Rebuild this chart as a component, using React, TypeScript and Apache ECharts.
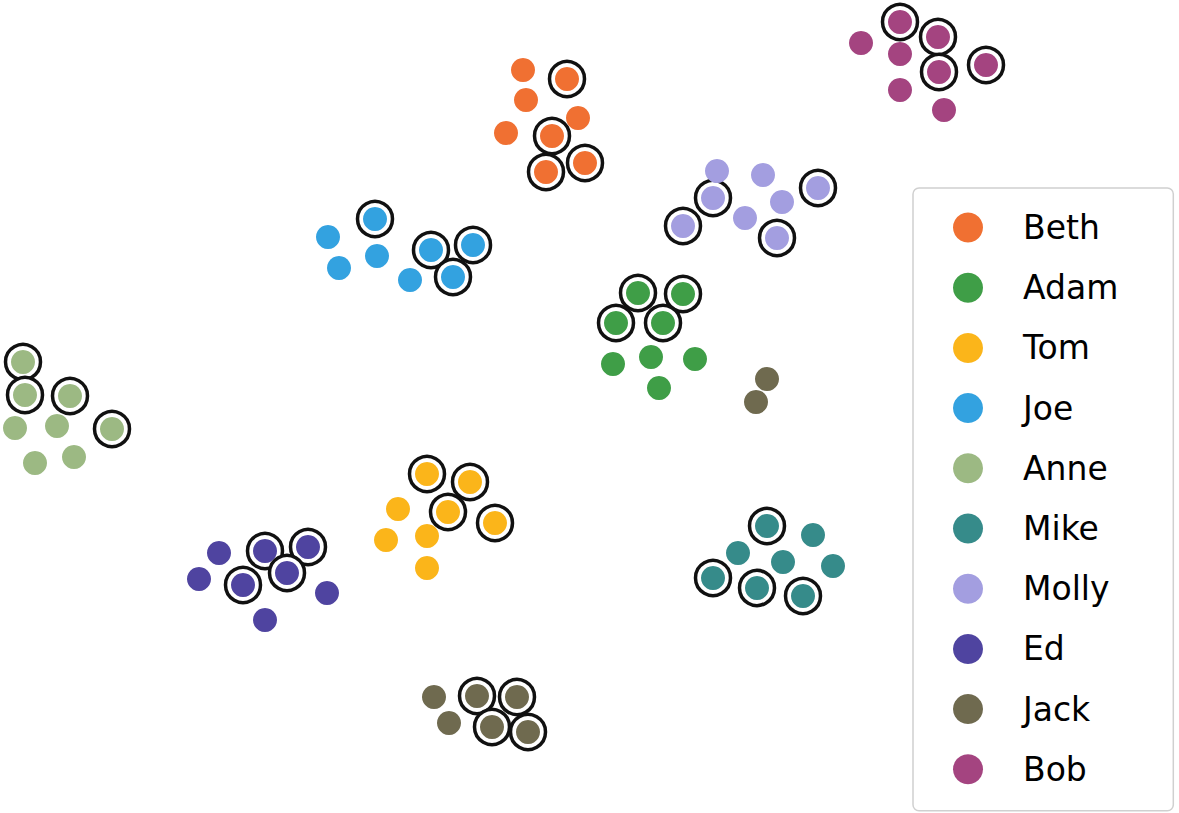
import React, { useEffect, useRef } from "react";
import * as echarts from "echarts";

// Each point: [x, y, ringed(1) or not(0)] in picture units (y grows downward)
const names = ["Beth", "Adam", "Tom", "Joe", "Anne", "Mike", "Molly", "Ed", "Jack", "Bob"];
const colors = ["#f07032", "#3f9e47", "#fbb51a", "#33a2e0", "#9cb983", "#368b8a", "#a39ee0", "#4f44a0", "#6f6a4f", "#a44480"];

const beth = [[523, 70, 0], [567, 79, 1], [526, 100, 0], [578, 118, 0], [506, 133, 0], [552, 136, 1], [546, 172, 1], [585, 163, 1]];
const adam = [[638, 293, 1], [683, 294, 1], [616, 323, 1], [663, 323, 1], [613, 364, 0], [651, 357, 0], [695, 359, 0], [659, 388, 0]];
const tom = [[427, 474, 1], [470, 482, 1], [398, 509, 0], [448, 512, 1], [495, 523, 1], [386, 540, 0], [427, 536, 0], [427, 568, 0]];
const joe = [[375, 219, 1], [328, 237, 0], [431, 250, 1], [473, 245, 1], [377, 256, 0], [339, 268, 0], [453, 277, 1], [410, 280, 0]];
const anne = [[23, 362, 1], [25, 395, 1], [70, 396, 1], [15, 428, 0], [57, 426, 0], [112, 429, 1], [35, 463, 0], [74, 457, 0]];
const mike = [[767, 526, 1], [813, 535, 0], [738, 553, 0], [783, 562, 0], [833, 566, 0], [713, 578, 1], [757, 588, 1], [803, 596, 1]];
const molly = [[717, 171, 0], [763, 175, 0], [818, 188, 1], [713, 198, 1], [782, 202, 0], [745, 218, 0], [683, 226, 1], [777, 238, 1]];
const ed = [[219, 553, 0], [265, 551, 1], [308, 547, 1], [199, 579, 0], [287, 573, 1], [243, 585, 1], [327, 593, 0], [265, 620, 0]];
const jack = [[767, 379, 0], [756, 402, 0], [434, 697, 0], [477, 696, 1], [517, 697, 1], [449, 723, 0], [492, 727, 1], [528, 732, 1]];
const bob = [[900, 22, 1], [861, 43, 0], [938, 37, 1], [900, 54, 0], [939, 72, 1], [986, 65, 1], [900, 90, 0], [944, 110, 0]];

const groups = [beth, adam, tom, joe, anne, mike, molly, ed, jack, bob];

export default function App() {
  const ref = useRef<HTMLDivElement>(null);
  useEffect(() => {
    if (!ref.current) return;
    const chart = echarts.init(ref.current, null, { renderer: "svg" });
    const ringData: number[][] = [];
    groups.forEach((g) => g.forEach((p) => { if (p[2]) ringData.push([p[0], p[1]]); }));
    const series: any[] = [
      {
        type: "scatter",
        name: "rings",
        data: ringData,
        symbol: "circle",
        symbolSize: 35,
        z: 1,
        silent: true,
        itemStyle: { color: "#ffffff", borderColor: "#111111", borderWidth: 3.5, opacity: 1 },
      },
    ];
    names.forEach((n, i) => {
      series.push({
        type: "scatter",
        name: n,
        data: groups[i].map((p) => [p[0], p[1]]),
        symbol: "circle",
        symbolSize: 24,
        z: 2,
        itemStyle: { color: colors[i], opacity: 1 },
      });
    });
    chart.setOption({
      animation: false,
      grid: { left: 0, right: 0, top: 0, bottom: 0 },
      xAxis: { type: "value", min: 0, max: 1179, show: false },
      yAxis: { type: "value", min: 0, max: 813, inverse: true, show: false },
      legend: {
        data: names.map((n) => ({ name: n, icon: "circle" })),
        orient: "vertical",
        left: 913,
        top: 188,
        height: 2000,
        padding: [23, 55, 25, 40],
        itemWidth: 30,
        itemHeight: 30,
        itemGap: 27.2,
        borderColor: "#d0d0d0",
        borderWidth: 1.5,
        borderRadius: 6,
        backgroundColor: "#ffffff",
        selectedMode: false,
        textStyle: {
          fontFamily: "DejaVu Sans",
          fontSize: 33,
          color: "#000000",
          padding: [0, 0, 0, 35],
        },
      },
      series,
    });
    return () => chart.dispose();
  }, []);
  return (
    <div
      ref={ref}
      style={{ position: "absolute", left: 0, top: 0, width: 1179, height: 813, background: "#ffffff" }}
    />
  );
}
